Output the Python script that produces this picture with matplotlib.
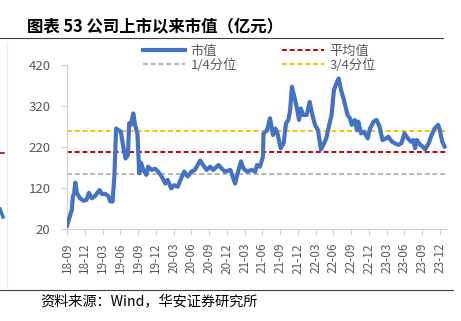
import matplotlib
matplotlib.use("Agg")
import matplotlib.pyplot as plt
from matplotlib.lines import Line2D

plt.rcParams['font.family'] = ['Noto Sans CJK SC', 'DejaVu Sans']

# months since 2018-09 (10 per row, rows match below)
months = [0.0, 0.8, 1.0, 1.2, 1.4, 1.7, 2.2, 2.8, 3.3, 3.7,
          4.2, 4.7, 5.5, 5.9, 6.4, 7.0, 7.3, 7.7, 8.0, 8.3,
          8.7, 9.1, 9.5, 9.9, 10.3, 10.5, 10.8, 11.2, 11.5, 11.9,
          12.2, 12.5, 12.9, 13.4, 13.7, 14.3, 14.9, 15.4, 16.0, 16.6,
          17.0, 17.6, 18.1, 18.7, 19.3, 19.8, 20.4, 21.0, 21.6, 22.5,
          23.0, 23.6, 24.2, 24.7, 25.6, 26.1, 26.7, 27.6, 28.4, 28.9,
          29.4, 29.8, 30.4, 31.2, 31.8, 32.1, 32.6, 33.1, 33.2, 33.8,
          34.3, 34.8, 35.2, 35.5, 36.1, 36.6, 37.0, 37.4, 37.7, 38.0,
          38.4, 38.8, 39.2, 39.5, 39.9, 40.5, 41.0, 41.4, 41.9, 42.4,
          42.9, 43.3, 43.8, 44.3, 44.7, 45.1, 45.5, 45.9, 46.3, 46.7,
          47.0, 47.4, 47.8, 48.1, 48.6, 49.0, 49.2, 49.7, 50.2, 50.8,
          51.2, 51.8, 52.3, 52.8, 53.3, 53.9, 54.3, 54.9, 55.4, 56.0,
          56.5, 57.0, 57.6, 58.1, 58.5, 58.8, 59.1, 59.7, 60.1, 60.5,
          61.1, 61.6, 62.1, 62.7, 63.0, 63.4, 63.8]
mkt_cap = [28, 66, 100, 107, 133, 107, 95, 89, 91, 108,
           95, 100, 115, 105, 106, 100, 87, 87, 147, 265,
           261, 257, 221, 192, 200, 278, 274, 302, 274, 253,
           156, 182, 164, 152, 172, 164, 167, 160, 148, 131,
           140, 119, 127, 123, 144, 160, 148, 160, 164, 187,
           176, 164, 172, 164, 176, 168, 160, 164, 131, 160,
           185, 168, 160, 164, 160, 176, 172, 196, 253, 261,
           290, 249, 265, 257, 217, 229, 278, 286, 310, 367,
           343, 318, 286, 314, 298, 298, 330, 302, 274, 261,
           214, 225, 241, 274, 298, 359, 375, 387, 359, 339,
           322, 298, 290, 274, 286, 261, 282, 253, 257, 241,
           265, 282, 286, 270, 237, 241, 245, 233, 229, 225,
           229, 253, 241, 233, 237, 217, 237, 225, 221, 214,
           229, 249, 265, 274, 261, 233, 221]

mean_val = 207
q1_val = 154
q3_val = 260

tick_pos = list(range(0, 64, 3))
tick_labels = ['18-09', '18-12', '19-03', '19-06', '19-09', '19-12', '20-03',
               '20-06', '20-09', '20-12', '21-03', '21-06', '21-09', '21-12',
               '22-03', '22-06', '22-09', '22-12', '23-03', '23-06', '23-09',
               '23-12']

fig = plt.figure(figsize=(4.61, 3.21), dpi=100)
ax = fig.add_axes([67 / 461, 1 - 229 / 321, 380 / 461, 164 / 321])

blue = '#4472C4'
red = '#C00000'
yellow = '#FFC000'
grey = '#B4B4B4'
txt = '#595959'

ax.plot(months, mkt_cap, color=blue, lw=3.0, solid_joinstyle='round', zorder=3)
ax.axhline(mean_val, color=red, lw=1.4, ls=(0, (2.5, 1.5)), zorder=2)
ax.axhline(q1_val, color=grey, lw=1.4, ls=(0, (2.5, 1.5)), zorder=2)
ax.axhline(q3_val, color=yellow, lw=1.4, ls=(0, (2.5, 1.5)), zorder=2)

ax.set_xlim(0, 64.2)
ax.set_ylim(20, 420)
ax.set_yticks([20, 120, 220, 320, 420])
ax.set_xticks(tick_pos)
ax.set_xticklabels(tick_labels, rotation=90)
ax.tick_params(axis='both', colors='#D0D0D0', labelcolor=txt, length=4, width=0.8)
ax.tick_params(axis='y', labelsize=9.5, pad=8)
ax.tick_params(axis='x', labelsize=8.5, pad=6)
for s in ['top', 'right']:
    ax.spines[s].set_visible(False)
for s in ['left', 'bottom']:
    ax.spines[s].set_color('#D0D0D0')
    ax.spines[s].set_linewidth(0.8)

handles = [Line2D([], [], color=blue, lw=3.0),
           Line2D([], [], color=grey, lw=1.4, ls=(0, (2.5, 1.5))),
           Line2D([], [], color=red, lw=1.4, ls=(0, (2.5, 1.5))),
           Line2D([], [], color=yellow, lw=1.4, ls=(0, (2.5, 1.5)))]
labels = ['市值', '1/4分位', '平均值', '3/4分位']
fig.legend(handles, labels, ncol=2, loc='upper left',
           bbox_to_anchor=(143 / 461, 1 - 44.5 / 321), frameon=False,
           fontsize=9.5, labelcolor=txt, handlelength=3.2, handletextpad=0.4,
           columnspacing=3.4, borderpad=0, borderaxespad=0, labelspacing=0.05)

fig.text(27 / 461, 1 - 27 / 321, '图表 53 公司上市以来市值（亿元）',
         fontsize=11.8, fontweight='bold', va='center', ha='left', color='black')
fig.add_artist(Line2D([0, 443 / 461], [1 - 37.5 / 321] * 2, color='#404040', lw=0.8))
fig.add_artist(Line2D([0, 453 / 461], [1 - 290 / 321] * 2, color='#404040', lw=0.8))
fig.text(40 / 461, 1 - 302 / 321, '资料来源：Wind，华安证券研究所',
         fontsize=10.2, va='center', ha='left', color='black')

# bits of the neighbouring chart cut off at the left edge
fig.add_artist(Line2D([7 / 461] * 2, [1 - 42 / 321, 1 - 288 / 321], color='#EBEBEB', lw=0.8))
fig.add_artist(Line2D([0, 4 / 461], [1 - 153 / 321] * 2, color=red, lw=1.2))
fig.add_artist(Line2D([0, 3 / 461], [1 - 209 / 321, 1 - 217 / 321], color=blue, lw=2.5))

fig.savefig('out.png', dpi=100)
